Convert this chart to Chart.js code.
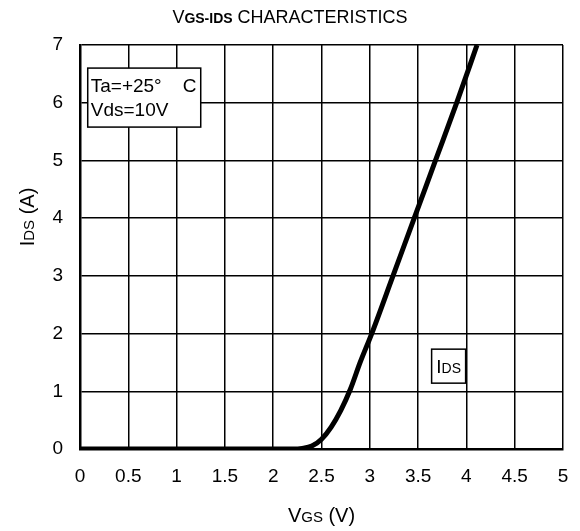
<!DOCTYPE html>
<html>
<head>
<meta charset="utf-8">
<script src="https://cdn.jsdelivr.net/npm/chart.js@4.4.1/dist/chart.umd.min.js"></script>
<style>
  html, body { margin: 0; padding: 0; background: #fff; }
  .graph-container { width: 580px; height: 531px; }
</style>
</head>
<body>
<div class="graph-container">
  <canvas id="chart"></canvas>
</div>
<script>
// values
const vgs = [0, 0.5, 1, 1.5, 2, 2.2, 2.3, 2.4, 2.5, 2.6, 2.7, 2.8, 2.9, 3.02, 3.24, 3.46, 3.68, 3.90, 4.11];
const ids = [0, 0, 0, 0, 0, 0, 0.01, 0.05, 0.17, 0.38, 0.67, 1.04, 1.5, 2, 3, 4, 5, 6, 7];
const xTicks = [0, 0.5, 1, 1.5, 2, 2.5, 3, 3.5, 4, 4.5, 5];
const yTicks = [0, 1, 2, 3, 4, 5, 6, 7];
const condLines = ['Ta=+25°    C', 'Vds=10V'];

const FONT = '"Liberation Sans", Arial, sans-serif';

// draws pieces of text one after another, each with its own font
function drawRuns(ctx, runs, x, y, align) {
  let total = 0;
  runs.forEach(r => { ctx.font = r.font; total += ctx.measureText(r.text).width; });
  let cx = align === 'center' ? x - total / 2 : x;
  ctx.textAlign = 'left';
  ctx.textBaseline = 'alphabetic';
  runs.forEach(r => {
    ctx.font = r.font;
    ctx.fillText(r.text, cx, y);
    cx += ctx.measureText(r.text).width;
  });
}

const labelsPlugin = {
  id: 'labels',
  afterDraw(chart) {
    const ctx = chart.ctx;
    const xs = chart.scales.x, ys = chart.scales.y;
    const area = chart.chartArea;
    ctx.save();
    ctx.fillStyle = '#000';

    // title
    drawRuns(ctx, [
      { text: 'V', font: '18px ' + FONT },
      { text: 'GS-IDS', font: 'bold 14px ' + FONT },
      { text: ' CHARACTERISTICS', font: '18px ' + FONT }
    ], 290, 23, 'center');

    // x axis title
    drawRuns(ctx, [
      { text: 'V', font: '20px ' + FONT },
      { text: 'GS', font: '15px ' + FONT },
      { text: ' (V)', font: '20px ' + FONT }
    ], (area.left + area.right) / 2, 522, 'center');

    // y axis title
    ctx.save();
    ctx.translate(34, 217);
    ctx.rotate(-Math.PI / 2);
    drawRuns(ctx, [
      { text: 'I', font: '20px ' + FONT },
      { text: 'DS', font: '15px ' + FONT },
      { text: ' (A)', font: '20px ' + FONT }
    ], 0, 0, 'center');
    ctx.restore();

    // condition box
    const bx = xs.getPixelForValue(0.08), by = ys.getPixelForValue(6.6);
    ctx.fillStyle = '#fff';
    ctx.fillRect(bx, by, 113, 59);
    ctx.strokeStyle = '#000';
    ctx.lineWidth = 1.5;
    ctx.strokeRect(bx, by, 113, 59);
    ctx.fillStyle = '#000';
    ctx.font = '19px ' + FONT;
    ctx.textAlign = 'left';
    ctx.textBaseline = 'alphabetic';
    condLines.forEach((t, i) => ctx.fillText(t, bx + 3, by + 24 + i * 24));

    // series label box
    const lx = xs.getPixelForValue(3.64), ly = ys.getPixelForValue(1.73);
    ctx.fillStyle = '#fff';
    ctx.fillRect(lx, ly, 34, 34);
    ctx.strokeRect(lx, ly, 34, 34);
    ctx.fillStyle = '#000';
    drawRuns(ctx, [
      { text: 'I', font: '19px ' + FONT },
      { text: 'DS', font: '14px ' + FONT }
    ], lx + 17, ly + 24, 'center');

    ctx.restore();
  }
};

new Chart(document.getElementById('chart'), {
  type: 'scatter',
  data: {
    datasets: [{
      label: 'IDS',
      data: vgs.map((v, i) => ({ x: v, y: ids[i] })),
      showLine: true,
      borderColor: '#000',
      borderWidth: 5,
      pointRadius: 0,
      cubicInterpolationMode: 'monotone'
    }]
  },
  options: {
    responsive: true,
    maintainAspectRatio: false,
    animation: false,
    layout: { padding: { top: 45, right: 17, left: 0, bottom: 0 } },
    plugins: {
      legend: { display: false },
      title: { display: false },
      tooltip: { enabled: false }
    },
    scales: {
      x: {
        type: 'linear',
        min: 0,
        max: 5,
        afterBuildTicks: s => { s.ticks = xTicks.map(v => ({ value: v })); },
        afterFit: s => { s.height = 82; s.paddingLeft = 0; s.paddingRight = 0; },
        grid: { color: '#000', lineWidth: 1.5, drawTicks: false },
        border: { color: '#000', width: 2.5 },
        ticks: {
          color: '#000',
          padding: 16,
          maxRotation: 0,
          font: { family: FONT, size: 19 },
          callback: v => String(v)
        }
      },
      y: {
        type: 'linear',
        min: 0,
        max: 7,
        afterBuildTicks: s => { s.ticks = yTicks.map(v => ({ value: v })); },
        afterFit: s => { s.width = 80; s.paddingTop = 0; s.paddingBottom = 0; },
        grid: { color: '#000', lineWidth: 1.5, drawTicks: false },
        border: { color: '#000', width: 2.5 },
        ticks: {
          color: '#000',
          padding: 17,
          font: { family: FONT, size: 19 },
          callback: v => String(v)
        }
      }
    }
  },
  plugins: [labelsPlugin]
});
</script>
</body>
</html>
